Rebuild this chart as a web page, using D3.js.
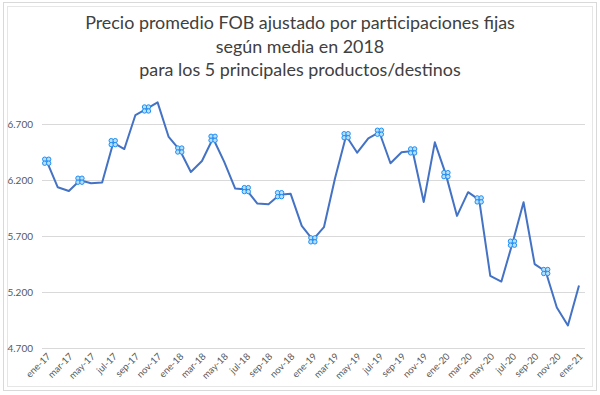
<!DOCTYPE html>
<html><head><meta charset="utf-8">
<script src="https://cdn.jsdelivr.net/npm/d3@7"></script>
<style>body{margin:0;background:#fff}svg{display:block}</style>
</head><body>
<script>
const titleLines = ["Precio promedio FOB ajustado por participaciones fijas","según media en 2018","para los 5 principales productos/destinos"];
const months = ["ene-17","feb-17","mar-17","abr-17","may-17","jun-17","jul-17","ago-17","sep-17","oct-17","nov-17","dic-17",
"ene-18","feb-18","mar-18","abr-18","may-18","jun-18","jul-18","ago-18","sep-18","oct-18","nov-18","dic-18",
"ene-19","feb-19","mar-19","abr-19","may-19","jun-19","jul-19","ago-19","sep-19","oct-19","nov-19","dic-19",
"ene-20","feb-20","mar-20","abr-20","may-20","jun-20","jul-20","ago-20","sep-20","oct-20","nov-20","dic-20","ene-21"];
const values = [6370,6137,6104,6200,6173,6179,6536,6479,6783,6837,6896,6587,
6470,6274,6372,6575,6366,6125,6116,5991,5986,6071,6078,5792,
5667,5780,6218,6598,6446,6575,6629,6352,6450,6462,6006,6539,
6250,5881,6093,6024,5345,5294,5637,6003,5450,5384,5062,4902,5259];
const markerMonths = ["ene-17","abr-17","jul-17","oct-17","ene-18","abr-18","jul-18","oct-18","ene-19","abr-19","jul-19","oct-19","ene-20","abr-20","jul-20","oct-20"];
const xTickLabels = months.filter((m,i)=>i%2===0);
const yTicks = [4700,5200,5700,6200,6700];

const W=600,H=395;
const svg=d3.select("body").append("svg").attr("width",W).attr("height",H);
// frame
svg.append("rect").attr("x",3.5).attr("y",2.5).attr("width",593).attr("height",388).attr("fill","#fff").attr("stroke","#d9d9d9");
svg.append("rect").attr("x",7.5).attr("y",6.5).attr("width",585).attr("height",380).attr("fill","none").attr("stroke","#e6e6e6");

const x=d3.scalePoint().domain(months).range([46.7,579]);
const y=d3.scaleLinear().domain([4700,6700]).range([348,124.3]);

// gridlines
svg.append("g").selectAll("line").data(yTicks).join("line")
 .attr("x1",42).attr("x2",585).attr("y1",d=>Math.round(y(d))+0.5).attr("y2",d=>Math.round(y(d))+0.5)
 .attr("stroke","#d9d9d9").attr("stroke-width",1);

// y axis labels
const fmt=d=>d3.format(",")(d).replace(",",".");
const yAxis=d3.axisLeft(y).tickValues(yTicks).tickFormat(fmt).tickSize(0).tickPadding(0);
const gy=svg.append("g").attr("transform","translate(33,0)").call(yAxis);
gy.select(".domain").remove();
gy.selectAll("text").attr("font-family","Lato, 'Open Sans', sans-serif").attr("font-size",10).attr("fill","#595959");

// x axis labels
const xAxis=d3.axisBottom(x).tickValues(xTickLabels).tickSize(0).tickPadding(0);
const gx=svg.append("g").attr("transform","translate(0,348)").call(xAxis);
gx.select(".domain").remove();
gx.selectAll("text").attr("font-family","Lato, 'Open Sans', sans-serif").attr("font-size",9.5).attr("fill","#595959")
 .attr("text-anchor","end").attr("dy",0).attr("y",0)
 .attr("transform","translate(4,9) rotate(-45)");

// line
svg.append("path").datum(values).attr("fill","none").attr("stroke","#4472C4").attr("stroke-width",2).attr("stroke-linejoin","round")
 .attr("d",d3.line().x((d,i)=>x(months[i])).y(d=>y(d)));

// markers
const mk=svg.append("g").selectAll("g").data(markerMonths).join("g")
 .attr("transform",m=>`translate(${x(m)},${y(values[months.indexOf(m)])})`);
[[-2,-2],[2,-2],[-2,2],[2,2]].forEach(([dx,dy])=>{
 mk.append("circle").attr("cx",dx).attr("cy",dy).attr("r",2.2).attr("fill","#b9defc").attr("stroke","#1f8ef1").attr("stroke-width",1);
});

// title
svg.append("g").selectAll("text").data(titleLines).join("text")
 .attr("x",300).attr("y",(d,i)=>29+i*23.5).attr("text-anchor","middle")
 .attr("font-family","Lato, 'Open Sans', sans-serif").attr("font-size",17.9).attr("fill","#404040").text(d=>d);
</script>
</body></html>
